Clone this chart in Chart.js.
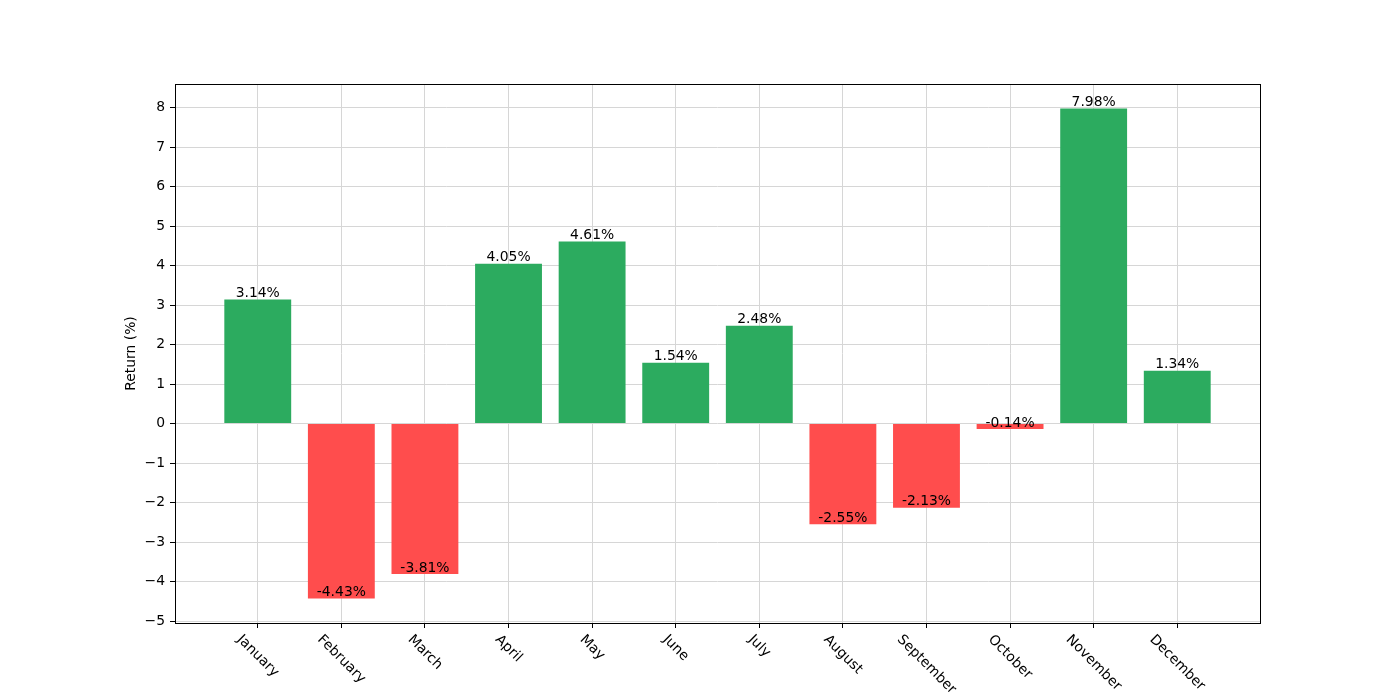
<!DOCTYPE html>
<html>
<head>
<meta charset="utf-8">
<script src="https://cdn.jsdelivr.net/npm/chart.js@4/dist/chart.umd.min.js"></script>
<style>
  body { margin: 0; background: #fff; }
  #wrap { width: 1400px; height: 700px; }
</style>
</head>
<body>
<div id="wrap"><canvas id="chartArea"></canvas></div>
<script>
var months = ['January', 'February', 'March', 'April', 'May', 'June',
              'July', 'August', 'September', 'October', 'November', 'December'];
var returns = [3.14, -4.43, -3.81, 4.05, 4.61, 1.54, 2.48, -2.55, -2.13, -0.14, 7.98, 1.34];
var yTicks = [-5, -4, -3, -2, -1, 0, 1, 2, 3, 4, 5, 6, 7, 8];

var FONT = 'DejaVu Sans';
var FS = 13.9;

// bar labels, matplotlib-style x tick labels and the full axes frame
var extras = {
    id: 'extras',
    afterDatasetsDraw: function(chart) {
        var ctx = chart.ctx;
        var meta = chart.getDatasetMeta(0);
        ctx.save();
        ctx.font = FS + 'px "' + FONT + '"';
        ctx.fillStyle = '#000';
        ctx.textAlign = 'center';
        ctx.textBaseline = 'bottom';
        meta.data.forEach(function(bar, i) {
            ctx.fillText(returns[i].toFixed(2) + '%', bar.x, chart.scales.y.getPixelForValue(returns[i]) + 1);
        });
        ctx.restore();
    },
    afterDraw: function(chart) {
        var ctx = chart.ctx;
        var a = chart.chartArea;
        var xs = chart.scales.x;
        ctx.save();
        ctx.strokeStyle = '#000';
        ctx.lineWidth = 1;
        ctx.strokeRect(Math.round(a.left) + 0.5, Math.round(a.top) + 0.5,
                       Math.round(a.right - a.left), Math.round(a.bottom - a.top));
        ctx.font = FS + 'px "' + FONT + '"';
        ctx.fillStyle = '#000';
        ctx.textAlign = 'center';
        ctx.textBaseline = 'middle';
        var top = a.bottom + 9.5;
        var h = FS * 1.0;
        months.forEach(function(m, i) {
            var w = ctx.measureText(m).width;
            var x = xs.getPixelForValue(i);
            var cy = top + (w + h) * 0.7071 / 2;
            ctx.save();
            ctx.translate(x, cy);
            ctx.rotate(Math.PI / 4);
            ctx.fillText(m, 0, 0);
            ctx.restore();
        });
        ctx.restore();
    }
};

var ctx = document.getElementById('chartArea').getContext('2d');
var myChart = new Chart(ctx, {
    type: 'bar',
    data: {
        datasets: [{
            data: returns.map(function(v, i) { return { x: i, y: v }; }),
            backgroundColor: returns.map(function(v) { return v >= 0 ? '#2cab5f' : '#ff4d4d'; }),
            borderWidth: 0,
            barPercentage: 0.8,
            categoryPercentage: 1.0
        }]
    },
    options: {
        responsive: true,
        maintainAspectRatio: false,
        animation: false,
        layout: { padding: { left: 123, right: 140, top: 84, bottom: 0 } },
        plugins: { legend: { display: false }, tooltip: { enabled: false } },
        scales: {
            x: {
                type: 'linear',
                offset: false,
                min: -0.99,
                max: 11.99,
                afterBuildTicks: function(scale) {
                    scale.ticks = months.map(function(m, i) { return { value: i }; });
                },
                afterFit: function(scale) { scale.height = 77; },
                ticks: { display: false },
                grid: { offset: false, color: '#d6d6d6', lineWidth: 1, tickColor: '#000', tickLength: 5 },
                border: { display: false }
            },
            y: {
                min: -5.05,
                max: 8.60,
                afterBuildTicks: function(scale) {
                    scale.ticks = yTicks.map(function(v) { return { value: v }; });
                },
                afterFit: function(scale) { scale.width = 52; },
                ticks: {
                    color: '#000',
                    padding: 5,
                    font: { family: FONT, size: FS },
                    callback: function(v) { return String(v).replace('-', '\u2212'); }
                },
                grid: { color: '#d6d6d6', lineWidth: 1, tickColor: '#000', tickLength: 5 },
                border: { display: false },
                title: {
                    display: true,
                    text: 'Return (%)',
                    color: '#000',
                    padding: 0,
                    font: { family: FONT, size: FS }
                }
            }
        }
    },
    plugins: [extras]
});
</script>
</body>
</html>
